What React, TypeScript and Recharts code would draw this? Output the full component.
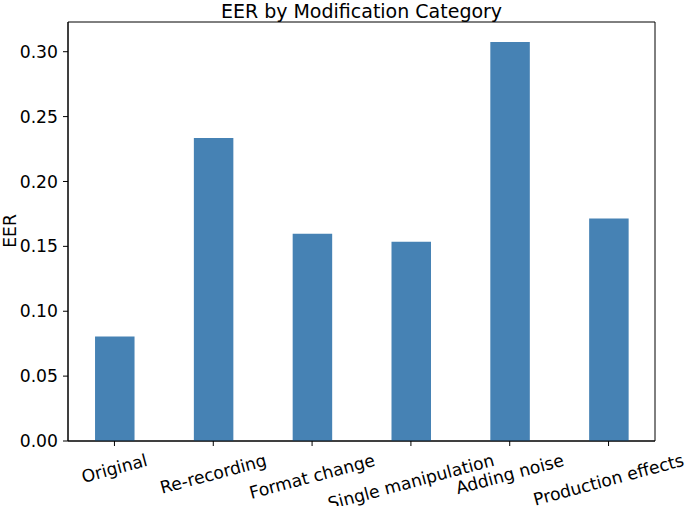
import React from 'react';
import { BarChart, Bar, XAxis, YAxis, ReferenceArea } from 'recharts';

// valeurs
const CATEGORIES = ['Original', 'Re-recording', 'Format change', 'Single manipulation', 'Adding noise', 'Production effects'];
const EER_VALUES = [0.0806, 0.2336, 0.1597, 0.1535, 0.3075, 0.1714];
const Y_TICKS = [0, 0.05, 0.1, 0.15, 0.2, 0.25, 0.3];
const X_TICKS = [0, 1, 2, 3, 4, 5];

const FONT = '"DejaVu Sans", sans-serif';
const FONT_SIZE = 17.2;
const X_DOMAIN: [number, number] = [-0.47, 5.47];
const Y_DOMAIN: [number, number] = [0, 0.3229];

const data = CATEGORIES.map((name, i) => ({ idx: i, name, eer: EER_VALUES[i] }));

let ctx: CanvasRenderingContext2D | null = null;
const measure = (s: string) => {
    if (!ctx) {
        ctx = document.createElement('canvas').getContext('2d');
    }
    if (!ctx) return s.length * FONT_SIZE * 0.6;
    ctx.font = `${FONT_SIZE}px "DejaVu Sans"`;
    return ctx.measureText(s).width;
};

// étiquettes inclinées à 15°, boîte centrée sous la graduation (comme matplotlib)
const XTick = (props: any) => {
    const { x, y, payload } = props;
    const label = CATEGORIES[payload.value] ?? '';
    const w = measure(label);
    const h = FONT_SIZE * 1.17;
    const a = (15 * Math.PI) / 180;
    const boxH = w * Math.sin(a) + h * Math.cos(a);
    const cy = y + 4 + boxH / 2;
    return (
        <text
            x={x}
            y={cy}
            textAnchor="middle"
            dominantBaseline="central"
            transform={`rotate(-15, ${x}, ${cy})`}
            style={{ fontFamily: FONT, fontSize: FONT_SIZE, fill: '#000' }}
        >
            {label}
        </text>
    );
};

export default function App() {
    return (
        <div style={{ position: 'absolute', left: 0, top: 0, width: 685, height: 506, background: '#fff', overflow: 'hidden' }}>
            <div style={{
                position: 'absolute',
                left: 361.5,
                top: 0,
                transform: 'translateX(-50%)',
                whiteSpace: 'nowrap',
                fontFamily: FONT,
                fontSize: 19,
                lineHeight: '22px',
                color: '#000',
            }}>
                EER by Modification Category
            </div>
            <div style={{
                position: 'absolute',
                left: 10,
                top: 231,
                transform: 'translate(-50%, -50%) rotate(-90deg)',
                fontFamily: FONT,
                fontSize: FONT_SIZE,
                lineHeight: '20px',
                color: '#000',
            }}>
                EER
            </div>
            <BarChart
                width={685}
                height={506}
                data={data}
                margin={{ top: 22, right: 30, left: 0, bottom: 0 }}
                style={{ position: 'absolute', left: 0, top: 0 }}
            >
                <XAxis
                    dataKey="idx"
                    type="number"
                    domain={X_DOMAIN}
                    ticks={X_TICKS}
                    allowDataOverflow
                    interval={0}
                    height={65}
                    tickSize={5}
                    tickMargin={0}
                    tick={<XTick />}
                    axisLine={{ stroke: '#000', strokeWidth: 1 }}
                    tickLine={{ stroke: '#000', strokeWidth: 1 }}
                />
                <YAxis
                    type="number"
                    domain={Y_DOMAIN}
                    ticks={Y_TICKS}
                    allowDataOverflow
                    width={68}
                    tickSize={5}
                    tickMargin={5}
                    tickFormatter={(v: number) => v.toFixed(2)}
                    tick={{ fill: '#000', fontFamily: FONT, fontSize: FONT_SIZE }}
                    axisLine={{ stroke: '#000', strokeWidth: 1 }}
                    tickLine={{ stroke: '#000', strokeWidth: 1 }}
                />
                <ReferenceArea
                    x1={X_DOMAIN[0]}
                    x2={X_DOMAIN[1]}
                    y1={Y_DOMAIN[0]}
                    y2={Y_DOMAIN[1]}
                    fill="none"
                    fillOpacity={0}
                    stroke="#000"
                    strokeWidth={1}
                    ifOverflow="visible"
                />
                <Bar dataKey="eer" fill="#4682b4" barSize={39.5} isAnimationActive={false} />
            </BarChart>
        </div>
    );
}
